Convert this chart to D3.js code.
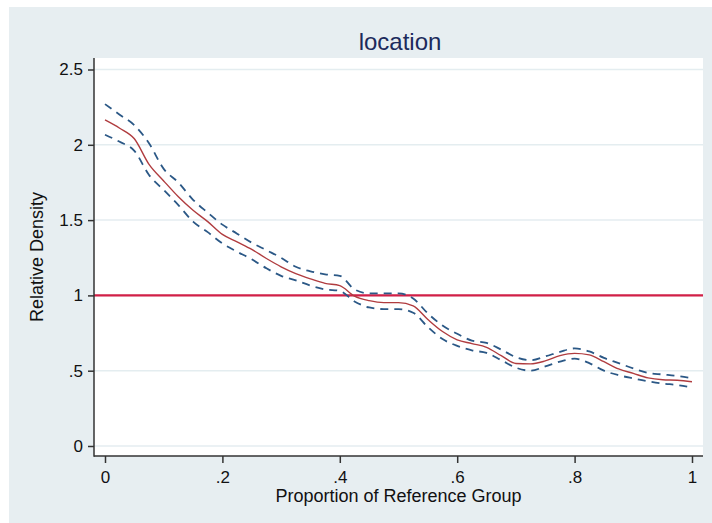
<!DOCTYPE html>
<html><head><meta charset="utf-8">
<script src="https://cdn.jsdelivr.net/npm/d3@7"></script>
<style>html,body{margin:0;padding:0;background:#fff;}svg{display:block;}</style>
</head><body>
<script>
const xs = [0,0.025,0.05,0.075,0.1,0.125,0.15,0.175,0.2,0.225,0.25,0.275,0.3,0.325,0.35,0.375,0.4,0.425,0.45,0.475,0.5,0.525,0.55,0.575,0.6,0.625,0.65,0.675,0.7,0.725,0.75,0.775,0.8,0.825,0.85,0.875,0.9,0.925,0.95,0.975,1];
const estimate = [2.165,2.11,2.04,1.87,1.76,1.655,1.565,1.49,1.405,1.355,1.305,1.245,1.19,1.145,1.11,1.08,1.065,0.995,0.965,0.952,0.952,0.93,0.84,0.76,0.705,0.68,0.655,0.60,0.548,0.545,0.565,0.60,0.615,0.605,0.56,0.512,0.482,0.452,0.44,0.437,0.427];
const upper = [2.27,2.20,2.13,2.01,1.84,1.75,1.635,1.55,1.47,1.41,1.35,1.30,1.25,1.19,1.16,1.14,1.13,1.04,1.013,1.013,1.013,0.98,0.88,0.80,0.745,0.70,0.685,0.64,0.59,0.57,0.595,0.625,0.648,0.628,0.585,0.55,0.515,0.485,0.475,0.465,0.45];
const lower = [2.067,2.02,1.96,1.80,1.70,1.60,1.49,1.42,1.345,1.29,1.24,1.18,1.13,1.10,1.065,1.04,1.03,0.96,0.92,0.909,0.909,0.885,0.79,0.71,0.665,0.635,0.618,0.57,0.52,0.50,0.528,0.56,0.58,0.55,0.50,0.47,0.449,0.43,0.415,0.405,0.389];
const refValue = 1;
const xTicks = [0,0.2,0.4,0.6,0.8,1];
const xTickLabels = ["0",".2",".4",".6",".8","1"];
const yTicks = [0,0.5,1,1.5,2,2.5];
const yTickLabels = ["0",".5","1","1.5","2","2.5"];
const titleText = "location";
const xTitle = "Proportion of Reference Group";
const yTitle = "Relative Density";

const W = 712, H = 523;
const svg = d3.select("body").append("svg").attr("width", W).attr("height", H);
const font = "'Liberation Sans', Arial, sans-serif";

// outer graph region
svg.append("rect").attr("x", 9).attr("y", 7).attr("width", W - 9).attr("height", H - 7).attr("fill", "#e7eef1");
// plot region
const pl = 94, pr = 703, pt = 58, pb = 456;
svg.append("rect").attr("x", pl).attr("y", pt).attr("width", pr - pl).attr("height", pb - pt).attr("fill", "#ffffff");

const x = d3.scaleLinear().domain([0, 1]).range([105, 692]);
const y = d3.scaleLinear().domain([0, 2.5]).range([446, 69.5]);

// gridlines
svg.append("g").selectAll("line").data(yTicks).join("line")
  .attr("x1", pl).attr("x2", pr).attr("y1", d => y(d)).attr("y2", d => y(d))
  .attr("stroke", "#e4edf0").attr("stroke-width", 1.5);

// reference line
svg.append("line").attr("x1", pl).attr("x2", pr).attr("y1", y(refValue)).attr("y2", y(refValue))
  .attr("stroke", "#d21f47").attr("stroke-width", 2.2);

const pts = a => xs.map((v, i) => [v, a[i]]);
const line = d3.line().x(d => x(d[0])).y(d => y(d[1])).curve(d3.curveMonotoneX);

svg.append("path").attr("d", line(pts(upper))).attr("fill", "none")
  .attr("stroke", "#2b5886").attr("stroke-width", 1.8).attr("stroke-dasharray", "8,6");
svg.append("path").attr("d", line(pts(lower))).attr("fill", "none")
  .attr("stroke", "#2b5886").attr("stroke-width", 1.8).attr("stroke-dasharray", "8,6");
svg.append("path").attr("d", line(pts(estimate))).attr("fill", "none")
  .attr("stroke", "#b03c3f").attr("stroke-width", 1.4);

// axes
const yAxis = d3.axisLeft(y).tickValues(yTicks).tickFormat((d, i) => yTickLabels[i]).tickSize(6).tickPadding(5);
const ga = svg.append("g").attr("transform", `translate(${pl},0)`).call(yAxis);
ga.select(".domain").remove();
ga.selectAll("line").attr("stroke", "#333").attr("stroke-width", 1.5);
ga.selectAll("text").attr("font-family", font).attr("font-size", 17).attr("fill", "#111");

const xAxis = d3.axisBottom(x).tickValues(xTicks).tickFormat((d, i) => xTickLabels[i]).tickSize(7).tickPadding(8);
const gx = svg.append("g").attr("transform", `translate(0,${pb})`).call(xAxis);
gx.select(".domain").remove();
gx.selectAll("line").attr("stroke", "#333").attr("stroke-width", 1.5);
gx.selectAll("text").attr("font-family", font).attr("font-size", 17).attr("fill", "#111");

// axis lines
svg.append("line").attr("x1", pl).attr("x2", pl).attr("y1", pt).attr("y2", pb + 0.75).attr("stroke", "#333").attr("stroke-width", 1.5);
svg.append("line").attr("x1", pl).attr("x2", pr).attr("y1", pb).attr("y2", pb).attr("stroke", "#333").attr("stroke-width", 1.5);

// titles
svg.append("text").attr("x", 400).attr("y", 50).attr("text-anchor", "middle")
  .attr("font-family", font).attr("font-size", 24).attr("fill", "#1c2a5c").text(titleText);
svg.append("text").attr("x", 398.5).attr("y", 502).attr("text-anchor", "middle")
  .attr("font-family", font).attr("font-size", 18).attr("fill", "#111").text(xTitle);
svg.append("text").attr("transform", "translate(43,257) rotate(-90)").attr("text-anchor", "middle")
  .attr("font-family", font).attr("font-size", 18).attr("fill", "#111").text(yTitle);
</script>
</body></html>
